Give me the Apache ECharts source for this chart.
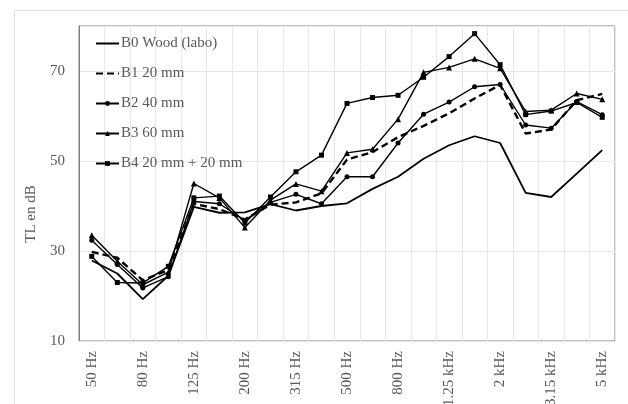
<!DOCTYPE html>
<html>
<head>
<meta charset="utf-8">
<script src="https://cdn.jsdelivr.net/npm/echarts@6/dist/echarts.min.js"></script>
<style>
html,body{margin:0;padding:0;background:#fff;}
#chart{width:628px;height:404px;}
</style>
</head>
<body>
<div id="chart"></div>
<script>
const categories = ['50 Hz','63 Hz','80 Hz','100 Hz','125 Hz','160 Hz','200 Hz','250 Hz','315 Hz','400 Hz','500 Hz','630 Hz','800 Hz','1 kHz','1.25 kHz','1.6 kHz','2 kHz','2.5 kHz','3.15 kHz','4 kHz','5 kHz'];
const b0Wood = [27.9, 25.0, 19.3, 24.5, 39.8, 38.5, 38.6, 40.4, 39.0, 40.0, 40.6, 43.8, 46.5, 50.5, 53.5, 55.5, 54.0, 42.9, 42.0, 47.2, 52.4];
const b1_20mm = [29.8, 28.5, 23.5, 25.8, 40.5, 39.3, 37.0, 40.3, 40.8, 42.8, 50.3, 52.0, 55.3, 57.8, 60.6, 63.9, 66.9, 56.1, 57.0, 63.5, 64.9];
const b2_40mm = [32.4, 27.0, 21.8, 24.3, 41.0, 40.5, 36.8, 40.8, 42.6, 40.5, 46.5, 46.5, 54.0, 60.4, 63.1, 66.5, 67.0, 58.0, 57.3, 63.2, 60.3];
const b3_60mm = [33.5, 27.7, 22.5, 25.3, 45.0, 41.8, 35.2, 41.3, 44.9, 43.3, 51.8, 52.6, 59.3, 69.7, 70.8, 72.7, 70.6, 61.0, 61.3, 65.0, 63.7];
const b4_20_20mm = [28.8, 23.0, 22.9, 26.6, 41.8, 42.2, 36.2, 42.0, 47.6, 51.3, 62.8, 64.1, 64.6, 68.6, 73.2, 78.3, 71.4, 60.3, 61.1, 63.0, 59.7];
const seriesNames = ['B0 Wood (labo)', 'B1 20 mm', 'B2 40 mm', 'B3 60 mm', 'B4 20 mm + 20 mm'];
const yAxisName = 'TL en dB';

const FONT = '"Liberation Serif", "Times New Roman", serif';
const TXT = '#595959';

function mk(name, data, opts) {
  return Object.assign({
    name: name,
    type: 'line',
    data: data,
    color: '#000',
    symbol: 'none',
    symbolSize: 5,
    lineStyle: { color: '#000', width: 1.4 },
    itemStyle: { color: '#000' },
    animation: false
  }, opts);
}

const chart = echarts.init(document.getElementById('chart'), null, { renderer: 'canvas' });
chart.setOption({
  animation: false,
  backgroundColor: '#fff',
  graphic: [
    { type: 'rect', shape: { x: 14.5, y: 10.5, width: 640, height: 420 }, style: { fill: 'none', stroke: '#dedede', lineWidth: 1 }, z: -10 },
    { type: 'text', x: 31, y: 214, rotation: Math.PI / 2, style: { text: yAxisName, font: '15px ' + FONT, fill: TXT, align: 'center', verticalAlign: 'middle' } }
  ],
  grid: { left: 79, top: 26, right: 13, bottom: 63, outerBoundsMode: 'none', containLabel: false, show: true, borderColor: '#7f7f7f', borderWidth: 1, backgroundColor: 'transparent' },
  legend: {
    orient: 'vertical',
    left: 90,
    top: 31,
    itemWidth: 23,
    itemHeight: 6,
    itemGap: 15,
    textStyle: { fontFamily: FONT, fontSize: 15, color: TXT, padding: [0, 0, 0, -3] },
    data: [
      { name: seriesNames[0], itemStyle: { color: 'rgba(0,0,0,0)' } },
      { name: seriesNames[1], itemStyle: { color: 'rgba(0,0,0,0)' } },
      { name: seriesNames[2] },
      { name: seriesNames[3] },
      { name: seriesNames[4] }
    ]
  },
  xAxis: {
    type: 'category',
    data: categories,
    boundaryGap: true,
    axisLine: { show: true, lineStyle: { color: '#e3e3e3', width: 1 } },
    axisTick: { show: false },
    splitLine: { show: true, interval: 0, lineStyle: { color: '#e8e8e8', width: 1 } },
    axisLabel: { interval: 1, rotate: 90, fontFamily: FONT, fontSize: 15, color: TXT, margin: 10 }
  },
  yAxis: {
    type: 'value',
    min: 10,
    max: 80,
    interval: 20,
    axisLine: { show: true, lineStyle: { color: '#7f7f7f', width: 1 } },
    axisTick: { show: false },
    splitLine: { show: true, lineStyle: { color: '#e8e8e8', width: 1 } },
    axisLabel: {
      fontFamily: FONT, fontSize: 15, color: TXT, margin: 14,
      formatter: function (v) { return v === 80 ? '' : String(v); }
    }
  },
  series: [
    mk(seriesNames[0], b0Wood, { lineStyle: { color: '#000', width: 1.8 } }),
    mk(seriesNames[1], b1_20mm, { lineStyle: { color: '#000', width: 2.4, type: [7, 4] } }),
    mk(seriesNames[2], b2_40mm, { symbol: 'circle', symbolSize: 5 }),
    mk(seriesNames[3], b3_60mm, { symbol: 'triangle', symbolSize: 6 }),
    mk(seriesNames[4], b4_20_20mm, { symbol: 'rect', symbolSize: 5 })
  ]
});
</script>
</body>
</html>
